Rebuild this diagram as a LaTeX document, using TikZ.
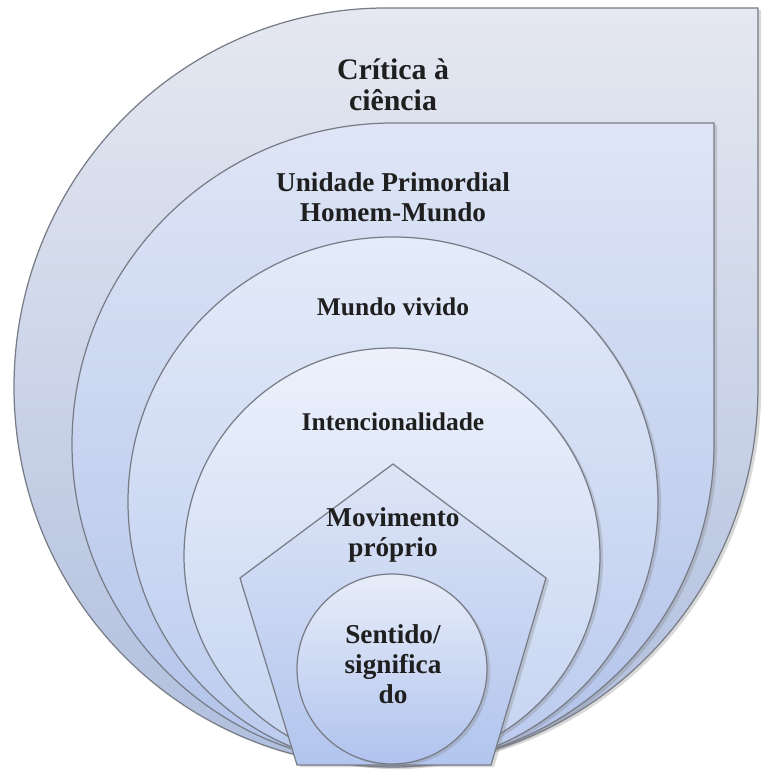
\documentclass[tikz,border=0pt]{standalone}
\usepackage{fontspec}
\setmainfont{Liberation Serif}
\usetikzlibrary{shadows}
\definecolor{outerTop}{RGB}{229,232,241}
\definecolor{outerBot}{RGB}{176,191,222}
\definecolor{unidTop}{RGB}{222,229,246}
\definecolor{unidBot}{RGB}{178,195,234}
\definecolor{mundoTop}{RGB}{228,235,249}
\definecolor{mundoBot}{RGB}{186,202,238}
\definecolor{intTop}{RGB}{236,241,251}
\definecolor{intBot}{RGB}{196,211,241}
\definecolor{movTop}{RGB}{222,229,246}
\definecolor{movBot}{RGB}{178,197,238}
\definecolor{sentTop}{RGB}{232,237,249}
\definecolor{sentBot}{RGB}{176,195,238}
\definecolor{edge}{RGB}{120,124,134}
\begin{document}
\begin{tikzpicture}[x=0.02cm, y=0.02cm,
    layer/.style={draw=edge, line width=0.7pt,
      drop shadow={opacity=0.3, shadow xshift=1.8pt, shadow yshift=-1.2pt}},
    lbl/.style={align=center, inner sep=0pt, text=black!88,
      font=\bfseries\fontsize{14.5}{16.8}\selectfont}]
  \useasboundingbox (0,0) rectangle (762,771);

  % outer teardrop
  \path[layer, top color=outerTop, bottom color=outerBot]
    (14,384) arc[start angle=180, end angle=90, x radius=372, y radius=379]
    -- (758,763) -- (758,384)
    arc[start angle=0, end angle=-180, x radius=372, y radius=379] -- cycle;
  % second teardrop
  \path[layer, top color=unidTop, bottom color=unidBot]
    (72,327) arc[start angle=180, end angle=90, radius=321]
    -- (714,648) -- (714,327)
    arc[start angle=0, end angle=-180, radius=321] -- cycle;
  \path[layer, top color=mundoTop, bottom color=mundoBot]
    (393,269) circle[radius=265];
  \path[layer, top color=intTop, bottom color=intBot]
    (392,215) circle[radius=208];
  \path[layer, top color=movTop, bottom color=movBot]
    (393,307) -- (546,193) -- (491,6) -- (297,6) -- (240,193) -- cycle;
  \path[layer, top color=sentTop, bottom color=sentBot]
    (392,102) circle[radius=95];

  \node[lbl, font=\bfseries\fontsize{17}{17.5}\selectfont] (critica) at (393,686) {Crítica à\\ciência};
  \node[lbl, font=\bfseries\fontsize{15.5}{16.8}\selectfont] (unidade) at (393,574) {Unidade Primordial\\Homem-Mundo};
  \node[lbl] (mundo) at (393,464) {Mundo vivido};
  \node[lbl] (intenc) at (393,349) {Intencionalidade};
  \node[lbl, font=\bfseries\fontsize{15.5}{16.8}\selectfont] (movim) at (393,236) {Movimento\\próprio};
  \node[lbl, font=\bfseries\fontsize{15.5}{17}\selectfont] (sentido) at (393,107) {Sentido/\\significa\\do};
\end{tikzpicture}
\end{document}
